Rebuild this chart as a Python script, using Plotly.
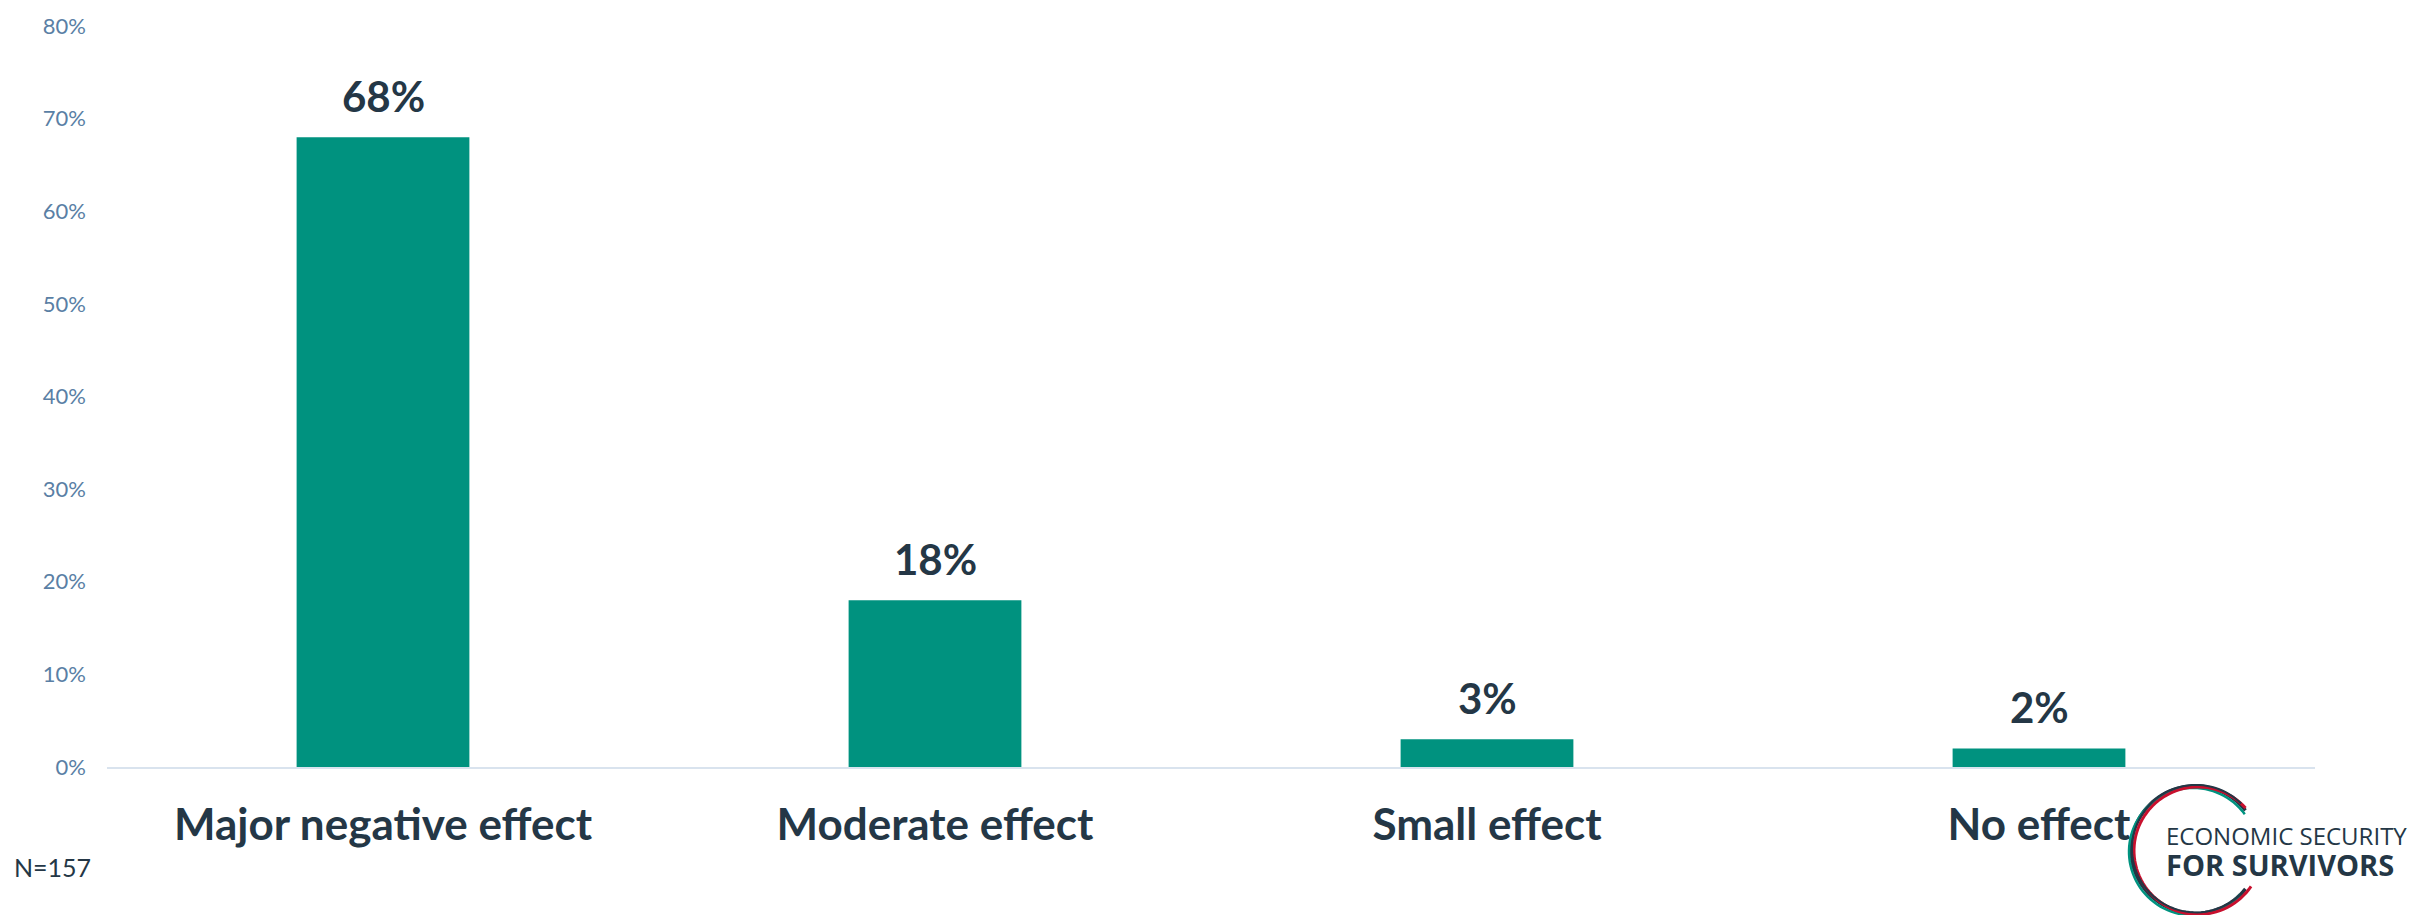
import numpy as np
import plotly.graph_objects as go

categories = ["Major negative effect", "Moderate effect", "Small effect", "No effect"]
values = [68, 18, 3, 2]
y_ticks = [0, 10, 20, 30, 40, 50, 60, 70, 80]
y_tick_labels = [f"{v}%" for v in y_ticks]
note_text = "N=157"

W, H = 2432, 915
L, R, T, B = 107, 117, 23, 148
PW, PH = W - L - R, H - T - B

BAR = "#00927F"
DARK = "#243746"
TICK = "#5A7FA5"
FONT = "Lato"


def px2paper(px, py):
    return (px - L) / PW, (H - B - py) / PH


fig = go.Figure()
fig.add_trace(go.Bar(
    x=categories, y=values, marker=dict(color=BAR, line=dict(width=0)),
    width=0.313, hoverinfo="skip",
))

for c, v in zip(categories, values):
    fig.add_annotation(x=c, y=v, xref="x", yref="y", text=f"<b>{v}%</b>",
                       showarrow=False, yanchor="bottom", yshift=14,
                       font=dict(family=FONT, size=42, color=DARK))

nx, ny = px2paper(12, 867)
fig.add_annotation(x=nx, y=ny, xref="paper", yref="paper",
                   text=note_text, showarrow=False, xanchor="left", yanchor="middle",
                   font=dict(family=FONT, size=25, color=DARK))

# Logo (decorative)
shapes = []
cx, cy, rad = 2195, 850, 64
arcs = [
    (DARK, 0, 0, 3.5, 38, 322),
    ("#009380", -2, 2, 2.5, 36, 318),
    ("#C8102E", 3, 1, 3.0, 42, 326),
    (DARK, 1, -1, 2.0, 45, 320),
]
for col, dx, dy, wdt, a0, a1 in arcs:
    ang = np.radians(np.linspace(a0, a1, 80))
    pts = [px2paper(cx + dx + rad * np.cos(a), cy + dy - rad * np.sin(a)) for a in ang]
    path = "M " + " L ".join(f"{x:.5f},{y:.5f}" for x, y in pts)
    shapes.append(dict(type="path", path=path, xref="paper", yref="paper",
                       line=dict(color=col, width=wdt)))

lx, ly = px2paper(2164, 852)
fig.add_annotation(x=lx, y=ly, xref="paper", yref="paper",
                   text="ECONOMIC SECURITY<br><span style='font-size:29px'><b>FOR SURVIVORS</b></span>",
                   showarrow=False, xanchor="left", yanchor="middle", align="left",
                   font=dict(family="Open Sans", size=24, color=DARK))

fig.update_layout(
    width=W, height=H,
    margin=dict(l=L, r=R, t=T, b=B, pad=0),
    paper_bgcolor="white", plot_bgcolor="white",
    showlegend=False, shapes=shapes,
    xaxis=dict(showline=True, linecolor="#D9E3EE", linewidth=2, showgrid=False,
               ticks="", tickfont=dict(family=FONT, size=44, color=DARK),
               ticklabelstandoff=18, fixedrange=True),
    yaxis=dict(range=[0, 80], tickvals=y_ticks, ticktext=y_tick_labels,
               showgrid=False, zeroline=False, showline=False, ticks="",
               tickfont=dict(family=FONT, size=22, color=TICK),
               ticklabelstandoff=20, fixedrange=True),
)
fig.update_xaxes(tickprefix="<b>", ticksuffix="</b>")

fig.write_html("out.html")
